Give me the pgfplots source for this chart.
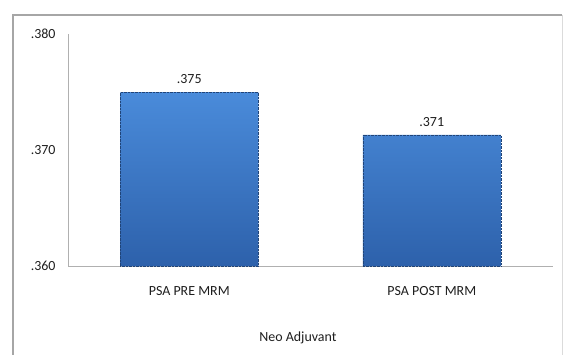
\documentclass[border=0pt]{standalone}
\usepackage{pgfplots}
\pgfplotsset{compat=1.18}
\usepackage{fontspec}
\setmainfont{Carlito}
\definecolor{framegray}{HTML}{A6A6A6}
\definecolor{axgray}{HTML}{B0B0B0}
\definecolor{bartop}{HTML}{4A8BDA}
\definecolor{barbot}{HTML}{2D61AB}
\definecolor{txt}{HTML}{1E1E1E}
\begin{document}
\begin{tikzpicture}[x=1bp,y=1bp]
\path[use as bounding box] (0,0) rectangle (565,354);
\draw[framegray, line width=1.5bp] (13,-5) -- (13,339) -- (562,339);
\draw[framegray!40, line width=1bp] (562,339) -- (562,-5);
\begin{axis}[
  at={(68bp,88bp)}, anchor=south west,
  scale only axis, width=485bp, height=232bp,
  xmin=-0.5, xmax=1.5, ymin=0.360, ymax=0.380,
  axis x line=bottom, axis y line=left,
  axis line style={-, axgray, line width=1bp},
  xtick={0,1}, xticklabels={PSA PRE MRM, PSA POST MRM},
  ytick={0.360,0.370,0.380}, yticklabels={.360,.370,.380},
  major tick length=0pt,
  tick label style={font=\fontsize{14}{16}\selectfont, text=txt},
  xticklabel style={yshift=-17bp},
  yticklabel style={anchor=east, xshift=-9bp},
  xlabel={Neo Adjuvant},
  xlabel style={font=\fontsize{14}{16}\selectfont, text=txt, at={(axis description cs:0.474,-0.31)}, anchor=center},
  ybar, bar width=138bp,
  nodes near coords, point meta=explicit symbolic,
  nodes near coords style={font=\fontsize{14}{16}\selectfont, text=txt, anchor=south, yshift=5bp},
  clip=false,
]
\addplot[draw=barbot!70!black, densely dotted, top color=bartop, bottom color=barbot] coordinates {(0,0.375) [.375] (1,0.3713) [.371]};
\end{axis}
\end{tikzpicture}
\end{document}
